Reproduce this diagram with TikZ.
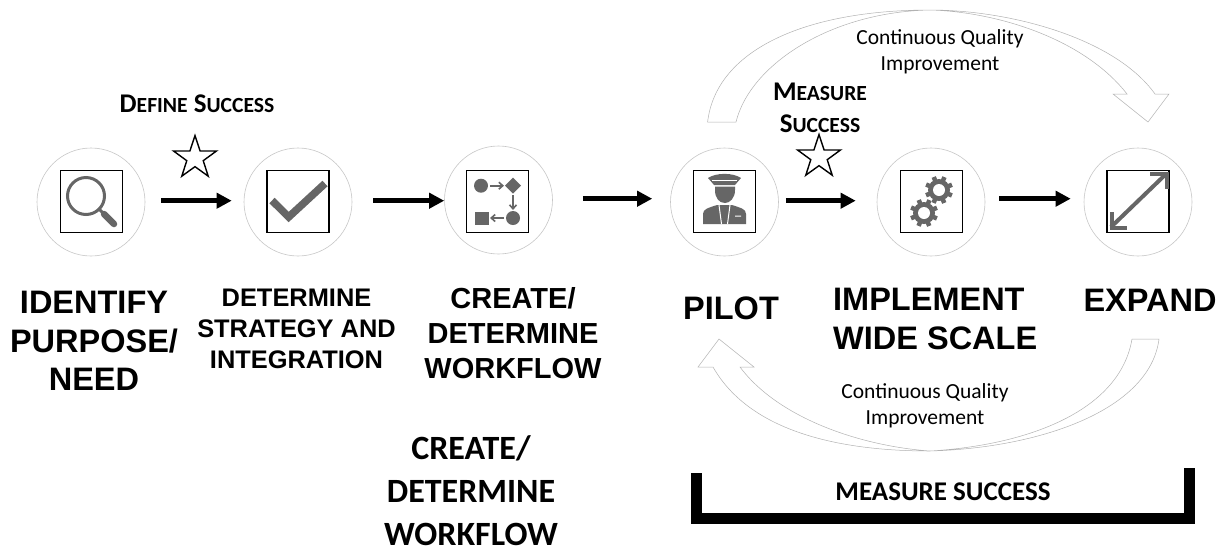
\documentclass[tikz,border=0pt]{standalone}
\usepackage{fontspec}
\setmainfont{Liberation Sans}
\newfontfamily\carlito{Carlito}
\usetikzlibrary{arrows.meta,shapes.geometric}
\definecolor{icongray}{HTML}{666666}
\tikzset{
  ring/.style={circle,draw=black!22,line width=.6pt,fill=white,minimum size=108pt,inner sep=0pt},
  iconbox/.style={draw=black,line width=1.6pt,minimum size=62pt,inner sep=0pt},
  flow/.style={line width=5pt,-{Triangle[length=15pt,width=15pt]}},
  starmark/.style={star,star points=5,star point ratio=2.6,draw=black,line width=1.4pt,minimum size=45pt,inner sep=0pt},
  title/.style={align=center,font=\bfseries\fontsize{32.5}{38.5}\selectfont},
  note/.style={align=center,font=\carlito\fontsize{21.5}{26}\selectfont},
  smallcap/.style={align=center,inner sep=0pt,font=\carlito\bfseries\fontsize{27}{27}\selectfont},
  sweep/.style={draw=black!30,line width=.5pt,fill=white},
  wire/.style={draw=icongray,line width=1.6pt,-{Straight Barb[length=4pt,width=7pt]}}
}
\newcommand{\gearicon}[2]{
  \foreach \a in {0,45,...,315}
    \draw[icongray,line width=4.5pt] (#1,#2) ++(\a+22:7pt) -- ++(\a+22:7pt);
  \fill[icongray] (#1,#2) circle[radius=11pt];
  \fill[white] (#1,#2) circle[radius=6pt];
}
\newcommand{\capsword}[2]{#1{\fontsize{21.6}{27}\selectfont #2}}
\begin{document}
\begin{tikzpicture}
  [x=1pt,y=-1pt]
  \useasboundingbox (0,0) rectangle (1220,550);

  \node (n1)[ring] at (91,202) {};
  \node (n2)[ring] at (298,202) {};
  \node (n3)[ring] at (498.5,200) {};
  \node (n4)[ring] at (724.5,202) {};
  \node (n5)[ring] at (931,202) {};
  \node (n6)[ring] at (1138,202) {};

  \node (b1)[iconbox] at (91.5,201.5) {};
  \node (b2)[iconbox] at (298,201.5) {};
  \node (b3)[iconbox] at (497.5,201.5) {};
  \node (b4)[iconbox] at (724.5,201.5) {};
  \node (b5)[iconbox] at (931.5,201.5) {};
  \node (b6)[iconbox] at (1138,201.5) {};

  \foreach \from/\to/\gapa/\gapb/\ya/\yb in {n1/n2/16/12/1.3/1.3,n2/n3/21/0/1.3/-.7,n3/n4/30/18/1.3/3.3,n4/n5/7/21/1.3/1.3,n5/n6/14/13/3.3/3.3}
    \draw[flow] ([xshift=\gapa pt,yshift=\ya pt]\from.east) -- ([xshift=-\gapb pt,yshift=\yb pt]\to.west);

  % magnifier
  \draw[icongray,line width=3pt] (86,196) circle[radius=18.5pt];
  \draw[icongray,line width=3pt] (99,209) -- (105,215);
  \draw[icongray,line width=6.5pt,line cap=round] (104,214) -- (114,224);

  % check
  \draw[icongray,line width=7.5pt] (272,200.5) -- (288.7,217) -- (325,183.5);

  % workflow
  \fill[icongray] (481,185.7) circle[radius=7pt];
  \fill[icongray] (513,177.7) -- (521,185.7) -- (513,193.7) -- (505,185.7) -- cycle;
  \fill[icongray] (513,218) circle[radius=7pt];
  \fill[icongray] (475,211.5) rectangle (488.5,225);
  \draw[wire] (490,185.7) -- (504,185.7);
  \draw[wire] (513,195) -- (513,210);
  \draw[wire] (504,218) -- (490,218);

  % pilot
  \fill[icongray] (708,178) .. controls (716,172.5) and (733,172.5) .. (741,178) -- (735,185) -- (714,185) -- cycle;
  \draw[white,line width=.7pt] (712,180.5) -- (737,180.5);
  \fill[icongray] (715,186.5) -- (735,186.5) -- (735,190) .. controls (735,198) and (730,203) .. (725,203) .. controls (719,203) and (715,198) .. (715,190) -- cycle;
  \fill[icongray] (703,224) -- (703,214) .. controls (703,209) and (708,208) .. (717,205) -- (732,205) .. controls (741,208) and (746,209) .. (746,214) -- (746,224) -- cycle;
  \draw[white,line width=1pt] (719,205) -- (721.5,224) (730,205) -- (727.5,224) (735,216) -- (741,216);

  % gears
  \gearicon{939}{190}
  \gearicon{924}{213}

  % expand
  \draw[icongray,line width=4pt] (1111,227) -- (1166,174);
  \draw[icongray,line width=4pt] (1150,174) -- (1166.5,174) -- (1166.5,189);
  \draw[icongray,line width=4pt] (1111.5,212) -- (1111.5,227.5) -- (1127,227.5);

  \node (s1)[starmark] at (195,158) {};
  \node (s2)[starmark] at (819,157) {};

  \path[sweep] (707.6,122) .. controls (716,50) and (805,10) .. (930,10) .. controls (1010,10) and (1115,38) .. (1155,94) -- (1169,94) -- (1148,122) -- (1113,94) -- (1127,94) .. controls (1085,40) and (1000,12) .. (930,10) .. controls (830,12) and (750,65) .. (736,122) -- cycle;
  \path[sweep] (1159,339) .. controls (1150,410) and (1040,448) .. (930,451) .. controls (840,451) and (750,432) .. (713,367) -- (698,367) -- (719,339) -- (754,367) -- (740,367) .. controls (778,418) and (860,446) .. (930,451) .. controls (1030,445) and (1120,410) .. (1132,339) -- cycle;

  \node (t1)[title] at (94,341) {IDENTIFY\\PURPOSE/\\NEED};
  \node (t2)[title,font=\bfseries\fontsize{25.4}{31}\selectfont] at (296.5,329) {DETERMINE\\STRATEGY AND\\INTEGRATION};
  \node (t3)[title,font=\bfseries\fontsize{29}{35}\selectfont] at (513,333) {CREATE/\\DETERMINE\\WORKFLOW};
  \node (t4)[title] at (731,308) {PILOT};
  \node (t5)[title,align=left,anchor=west,inner sep=0pt] at (833,319) {IMPLEMENT\\WIDE SCALE};
  \node (t6)[title] at (1150,300) {EXPAND};

  \node (c1)[note] at (940,52) {Continuous Quality\\Improvement};
  \node (c2)[note] at (925,406) {Continuous Quality\\Improvement};

  \node (d1)[smallcap] at (197,104) {\capsword{D}{EFINE} \capsword{S}{UCCESS}};
  \node (d2)[smallcap] at (820,108) {\capsword{M}{EASURE}\\[5pt]\capsword{S}{UCCESS}};

  \node (w1)[align=center,inner sep=0pt,font=\carlito\bfseries\fontsize{34}{43}\selectfont] at (471,491) {CREATE/\\DETERMINE\\WORKFLOW};

  \node (m1)[font=\carlito\bfseries\fontsize{27}{30}\selectfont] at (943,492) {MEASURE SUCCESS};
  \draw[line width=11pt] (696.5,473) -- (696.5,518.5) -- (1189.5,518.5) -- (1189.5,468);

\end{tikzpicture}
\end{document}
